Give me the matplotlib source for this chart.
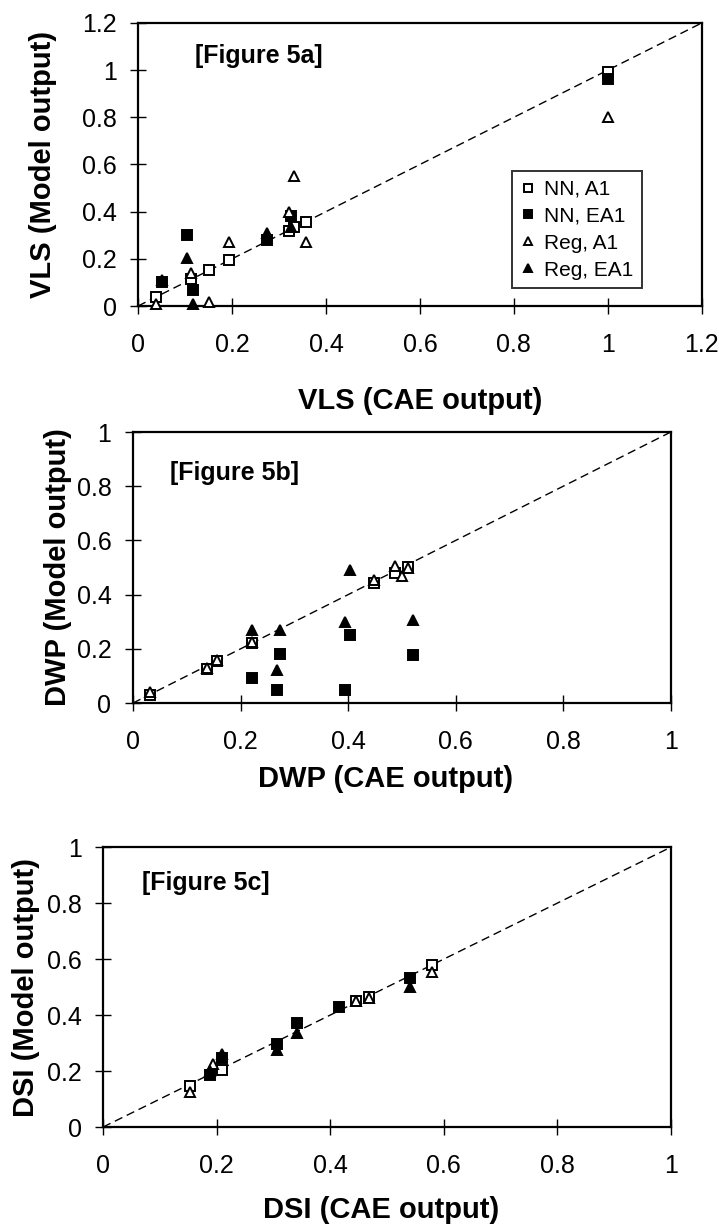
import matplotlib
matplotlib.use('Agg')
import matplotlib.pyplot as plt
from matplotlib.ticker import MultipleLocator, FuncFormatter

plt.rcParams['font.family'] = ['Liberation Sans', 'DejaVu Sans']

# legend / series names
series_names = ['NN, A1', 'NN, EA1', 'Reg, A1', 'Reg, EA1']

# Figure 5a - VLS, (CAE output, model output) pairs
vls_nn_a1 = [(0.039, 0.04), (0.112, 0.115), (0.151, 0.152), (0.193, 0.195),
             (0.321, 0.32), (0.332, 0.335), (0.357, 0.357), (1.0, 0.99)]
vls_nn_ea1 = [(0.05, 0.10), (0.105, 0.30), (0.118, 0.07), (0.275, 0.28),
              (0.326, 0.38), (1.0, 0.962)]
vls_reg_a1 = [(0.039, 0.01), (0.112, 0.14), (0.151, 0.015), (0.193, 0.27),
              (0.321, 0.40), (0.332, 0.55), (0.357, 0.27), (1.0, 0.80)]
vls_reg_ea1 = [(0.05, 0.11), (0.105, 0.205), (0.118, 0.01), (0.275, 0.31),
               (0.326, 0.335)]

# Figure 5b - DWP
dwp_nn_a1 = [(0.031, 0.03), (0.138, 0.126), (0.157, 0.154), (0.222, 0.22),
             (0.449, 0.443), (0.487, 0.48), (0.511, 0.502)]
dwp_nn_ea1 = [(0.222, 0.092), (0.268, 0.047), (0.274, 0.18), (0.394, 0.047),
              (0.403, 0.25), (0.52, 0.178)]
dwp_reg_a1 = [(0.031, 0.04), (0.138, 0.13), (0.157, 0.157), (0.222, 0.225),
              (0.449, 0.453), (0.487, 0.505), (0.50, 0.47), (0.511, 0.50)]
dwp_reg_ea1 = [(0.222, 0.27), (0.268, 0.123), (0.274, 0.27), (0.394, 0.30),
               (0.403, 0.49), (0.52, 0.305)]

# Figure 5c - DSI
dsi_nn_a1 = [(0.153, 0.145), (0.209, 0.205), (0.446, 0.452), (0.468, 0.465),
             (0.58, 0.58)]
dsi_nn_ea1 = [(0.188, 0.185), (0.21, 0.245), (0.307, 0.298), (0.342, 0.372),
              (0.415, 0.43), (0.54, 0.533)]
dsi_reg_a1 = [(0.153, 0.125), (0.193, 0.225), (0.446, 0.45), (0.468, 0.46),
              (0.58, 0.555)]
dsi_reg_ea1 = [(0.188, 0.20), (0.21, 0.26), (0.307, 0.275), (0.342, 0.335),
               (0.54, 0.50)]

markers = ['s', 's', '^', '^']
faces = ['white', 'black', 'white', 'black']


def draw_panel(ax, series, lim, xlabel, ylabel, tag, tag_pos, xlab_pos, ylab_x):
    # 1:1 reference line
    ax.plot([0, lim], [0, lim], color='black', lw=1.0, ls=(0, (6, 3.5)), zorder=1)

    for pts, m, fc, name in zip(series, markers, faces, series_names):
        xs = [p[0] for p in pts]
        ys = [p[1] for p in pts]
        ax.plot(xs, ys, ls='none', marker=m, ms=7.5, mfc=fc, mec='black',
                mew=1.4, label=name, clip_on=False, zorder=3)

    ax.set_xlim(0, lim)
    ax.set_ylim(0, lim)
    ax.xaxis.set_major_locator(MultipleLocator(0.2))
    ax.yaxis.set_major_locator(MultipleLocator(0.2))
    fmt = FuncFormatter(lambda v, p: '%g' % round(v, 2))
    ax.xaxis.set_major_formatter(fmt)
    ax.yaxis.set_major_formatter(fmt)

    ax.tick_params(axis='both', direction='inout', length=11, width=1.0,
                   labelsize=18)
    ax.tick_params(axis='x', pad=14)
    ax.tick_params(axis='y', pad=10)
    for s in ax.spines.values():
        s.set_linewidth(1.6)

    ax.set_xlabel(xlabel, fontsize=21, fontweight='bold')
    ax.set_ylabel(ylabel, fontsize=21, fontweight='bold')
    ax.xaxis.set_label_coords(xlab_pos[0], xlab_pos[1])
    ax.yaxis.set_label_coords(ylab_x, 0.5)

    ax.text(tag_pos[0], tag_pos[1], tag, fontsize=18, fontweight='bold',
            ha='left', va='center')


fig = plt.figure(figsize=(7.19, 12.28), dpi=100)

ax_a = fig.add_axes([0.192, 0.7508, 0.784, 0.2305])
ax_b = fig.add_axes([0.185, 0.4275, 0.748, 0.2207])
ax_c = fig.add_axes([0.1433, 0.0822, 0.790, 0.2280])

draw_panel(ax_a, [vls_nn_a1, vls_nn_ea1, vls_reg_a1, vls_reg_ea1], 1.2,
           'VLS (CAE output)', 'VLS (Model output)', '[Figure 5a]',
           (0.122, 1.06), (0.5, -0.285), -0.144)
draw_panel(ax_b, [dwp_nn_a1, dwp_nn_ea1, dwp_reg_a1, dwp_reg_ea1], 1.0,
           'DWP (CAE output)', 'DWP (Model output)', '[Figure 5b]',
           (0.069, 0.85), (0.47, -0.23), -0.113)
draw_panel(ax_c, [dsi_nn_a1, dsi_nn_ea1, dsi_reg_a1, dsi_reg_ea1], 1.0,
           'DSI (CAE output)', 'DSI (Model output)', '[Figure 5c]',
           (0.069, 0.87), (0.49, -0.245), -0.111)

leg = ax_a.legend(loc='lower left', bbox_to_anchor=(0.663, 0.064),
                  borderaxespad=0, fontsize=15, frameon=True, fancybox=False,
                  handlelength=0.8, handletextpad=0.35, labelspacing=0.38,
                  borderpad=0.4, markerscale=0.85)
leg.get_frame().set_edgecolor('black')
leg.get_frame().set_linewidth(1.4)

fig.savefig('out.png', dpi=100)
